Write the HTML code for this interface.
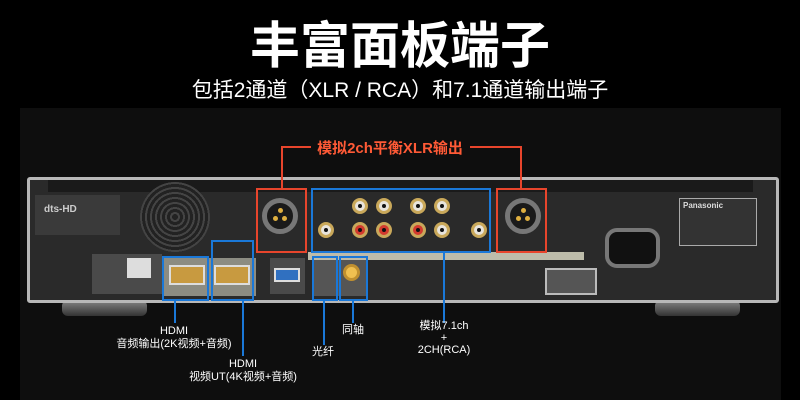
<!DOCTYPE html>
<html><head><meta charset="utf-8"><style>
*{margin:0;padding:0;box-sizing:border-box}
body{width:800px;height:400px;background:#000;position:relative;overflow:hidden;font-family:"Liberation Sans","Noto Sans CJK SC",sans-serif;color:#fff}
.a{position:absolute}
.t{position:absolute;white-space:nowrap;text-align:center}
.rb{position:absolute;border:2px solid #e8452c}
.bb{position:absolute;border:2px solid #1a78d8}
.bl{position:absolute;background:#1a78d8;width:2px}
.rca{position:absolute;width:16px;height:16px;border-radius:50%;background:#e8e4dc;border:3px solid #c9a85a}
.rca::after{content:"";position:absolute;left:3px;top:3px;width:4px;height:4px;border-radius:50%;background:#111}
.red{background:#d23a2e}
.xlr{position:absolute;width:36px;height:36px;border-radius:50%;background:#1a1a1a;border:5px solid #777}
.pin{position:absolute;width:5px;height:5px;border-radius:50%;background:#e0b040}
</style></head><body>
<div class="t" style="left:0;width:800px;top:18px;font-size:50px;font-weight:bold;line-height:56px">丰富面板端子</div>
<div class="t" style="left:0;width:800px;top:78px;font-size:21px;line-height:26px">包括2通道（XLR / RCA）和7.1通道输出端子</div>
<div class="a" style="left:20px;top:108px;width:761px;height:292px;background:#0e0e0e"></div>
<div class="a" style="left:62px;top:300px;width:85px;height:16px;border-radius:6px;background:linear-gradient(#888,#333)"></div>
<div class="a" style="left:655px;top:300px;width:85px;height:16px;border-radius:6px;background:linear-gradient(#888,#333)"></div>
<div class="a" style="left:27px;top:177px;width:752px;height:126px;background:#2a2a2a;border:3px solid #b8b8b8;border-radius:3px"></div>
<div class="a" style="left:48px;top:180px;width:705px;height:12px;background:#1a1a1a"></div>
<div class="a" style="left:35px;top:195px;width:85px;height:40px;background:#3a3a3a"></div>
<div class="a" style="left:140px;top:182px;width:70px;height:70px;border-radius:50%;background:repeating-radial-gradient(#222 0 3px,#444 3px 5px)"></div>
<div class="a" style="left:44px;top:204px;font-size:10px;font-weight:bold;color:#ccc">dts-HD</div>
<div class="a" style="left:92px;top:254px;width:70px;height:40px;background:#4a4a4a"></div>
<div class="a" style="left:127px;top:258px;width:24px;height:20px;background:#ddd"></div>
<div class="a" style="left:164px;top:258px;width:92px;height:38px;background:#8c8c82"></div>
<div class="a" style="left:169px;top:265px;width:36px;height:20px;background:#c89a40;border:2px solid #ddd"></div>
<div class="a" style="left:214px;top:265px;width:36px;height:20px;background:#c89a40;border:2px solid #ddd"></div>
<div class="a" style="left:270px;top:258px;width:35px;height:36px;background:#4a4a4a"></div>
<div class="a" style="left:274px;top:268px;width:26px;height:14px;background:#3070c0;border:2px solid #ddd"></div>
<div class="a" style="left:314px;top:260px;width:52px;height:36px;background:#555"></div>
<div class="a" style="left:343px;top:264px;width:17px;height:17px;border-radius:50%;background:#f0c050;border:3px solid #c09030"></div>
<div class="a" style="left:308px;top:252px;width:276px;height:8px;background:#bdbcaa"></div>
<div class="a" style="left:545px;top:268px;width:52px;height:27px;background:#555;border:2px solid #bbb"></div>
<div class="a" style="left:605px;top:228px;width:55px;height:40px;border-radius:12px;background:#111;border:4px solid #777"></div>
<div class="a" style="left:679px;top:198px;width:78px;height:48px;border:1px solid #aaa;background:#333"></div>
<div class="a" style="left:683px;top:201px;font-size:8px;color:#ddd;font-weight:bold">Panasonic</div>
<div class="xlr" style="left:262px;top:198px"><div class="pin" style="left:6px;top:13px"></div><div class="pin" style="left:15px;top:13px"></div><div class="pin" style="left:11px;top:5px"></div></div>
<div class="xlr" style="left:505px;top:198px"><div class="pin" style="left:6px;top:13px"></div><div class="pin" style="left:15px;top:13px"></div><div class="pin" style="left:11px;top:5px"></div></div>
<div class="rca" style="left:318px;top:222px"></div>
<div class="rca" style="left:352px;top:198px"></div><div class="rca" style="left:376px;top:198px"></div>
<div class="rca red" style="left:352px;top:222px"></div><div class="rca red" style="left:376px;top:222px"></div>
<div class="rca" style="left:410px;top:198px"></div><div class="rca" style="left:434px;top:198px"></div>
<div class="rca red" style="left:410px;top:222px"></div><div class="rca" style="left:434px;top:222px"></div>
<div class="rca" style="left:471px;top:222px"></div>
<div class="rb" style="left:256px;top:188px;width:51px;height:65px"></div>
<div class="rb" style="left:496px;top:188px;width:51px;height:65px"></div>
<div class="bb" style="left:311px;top:188px;width:180px;height:65px"></div>
<div class="bb" style="left:162px;top:256px;width:47px;height:45px"></div>
<div class="bb" style="left:211px;top:240px;width:43px;height:61px"></div>
<div class="bb" style="left:312px;top:256px;width:26px;height:45px"></div>
<div class="bb" style="left:339px;top:256px;width:29px;height:45px"></div>
<div class="a" style="left:281px;top:146px;width:30px;height:2px;background:#e8452c"></div>
<div class="a" style="left:281px;top:146px;width:2px;height:42px;background:#e8452c"></div>
<div class="a" style="left:470px;top:146px;width:52px;height:2px;background:#e8452c"></div>
<div class="a" style="left:520px;top:146px;width:2px;height:42px;background:#e8452c"></div>
<div class="t" style="left:290px;width:200px;top:137px;font-size:15px;font-weight:bold;color:#ff5a36">模拟2ch平衡XLR输出</div>
<div class="bl" style="left:174px;top:301px;height:22px"></div>
<div class="bl" style="left:242px;top:301px;height:55px"></div>
<div class="bl" style="left:323px;top:301px;height:44px"></div>
<div class="bl" style="left:352px;top:301px;height:22px"></div>
<div class="bl" style="left:443px;top:253px;height:70px"></div>
<div class="t" style="left:94px;width:160px;top:325px;font-size:11px;line-height:13px">HDMI<br>音频输出(2K视频+音频)</div>
<div class="t" style="left:163px;width:160px;top:358px;font-size:11px;line-height:13px">HDMI<br>视频UT(4K视频+音频)</div>
<div class="t" style="left:303px;width:40px;top:343px;font-size:11px">光纤</div>
<div class="t" style="left:333px;width:40px;top:321px;font-size:11px">同轴</div>
<div class="t" style="left:394px;width:100px;top:320px;font-size:11px;line-height:12px">模拟7.1ch<br>+<br>2CH(RCA)</div>
</body></html>
